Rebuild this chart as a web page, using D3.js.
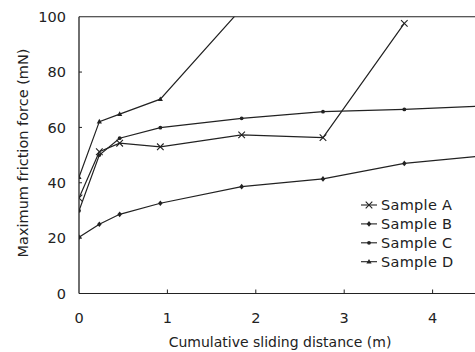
<!DOCTYPE html>
<html>
<head>
<meta charset="utf-8">
<script src="https://cdn.jsdelivr.net/npm/d3@7"></script>
<style>
  html, body { margin: 0; padding: 0; background: #fff; }
  svg { display: block; font-family: 'DejaVu Sans', sans-serif; }
</style>
</head>
<body>
<div id="chart"></div>
<script>
// distances (m)
const distances = [0, 0.23, 0.46, 0.92, 1.84, 2.76, 3.68, 4.6];
const sampleA = [34.5, 51.2, 54.3, 53.0, 57.3, 56.3, 97.6];
const sampleB = [20.3, 25.0, 28.6, 32.6, 38.6, 41.4, 47.0, 49.8];
const sampleC = [29.9, 50.0, 56.1, 59.9, 63.3, 65.7, 66.5, 67.8];
const sampleD = [42.0, 62.1, 64.8, 70.2, 103.0];
const seriesNames = ['Sample A', 'Sample B', 'Sample C', 'Sample D'];
const xTicks = [0, 1, 2, 3, 4];
const yTicks = [0, 20, 40, 60, 80, 100];

const W = 475, H = 352;
const M = { top: 16.7, left: 79, bottom: 293.5 };
const INK = '#222';

const x = d3.scaleLinear().domain([0, 5]).range([M.left, M.left + 5 * 88.4]);
const y = d3.scaleLinear().domain([0, 100]).range([M.bottom, M.top]);

const svg = d3.select('#chart').append('svg')
  .attr('width', W).attr('height', H)
  .attr('viewBox', `0 0 ${W} ${H}`);

svg.append('defs').append('clipPath').attr('id', 'plot')
  .append('rect')
  .attr('x', x(0)).attr('y', y(100))
  .attr('width', x(5) - x(0)).attr('height', y(0) - y(100));

// frame: top and left lines, bottom axis
svg.append('line')
  .attr('x1', x(0)).attr('x2', W + 10).attr('y1', y(100)).attr('y2', y(100))
  .attr('stroke', INK).attr('stroke-width', 1.1);
svg.append('line')
  .attr('x1', x(0)).attr('x2', x(0)).attr('y1', y(100)).attr('y2', y(0))
  .attr('stroke', INK).attr('stroke-width', 1.3);
svg.append('line')
  .attr('x1', x(0)).attr('x2', W + 10).attr('y1', y(0)).attr('y2', y(0))
  .attr('stroke', INK).attr('stroke-width', 1.1);

// ticks (inward)
svg.append('g').selectAll('line').data(xTicks.filter((d) => d > 0)).join('line')
  .attr('x1', (d) => x(d)).attr('x2', (d) => x(d))
  .attr('y1', y(0)).attr('y2', y(0) - 4)
  .attr('stroke', INK).attr('stroke-width', 1);
svg.append('g').selectAll('line').data(yTicks.filter((d) => d > 0 && d < 100)).join('line')
  .attr('x1', x(0)).attr('x2', x(0) + 3)
  .attr('y1', (d) => y(d)).attr('y2', (d) => y(d))
  .attr('stroke', INK).attr('stroke-width', 1);

// tick labels
svg.append('g').selectAll('text').data(yTicks).join('text')
  .attr('x', x(0) - 13).attr('y', (d) => y(d))
  .attr('dy', '0.36em')
  .attr('text-anchor', 'end')
  .attr('font-size', '14.5px')
  .attr('fill', INK)
  .text((d) => d);
svg.append('g').selectAll('text').data(xTicks).join('text')
  .attr('x', (d) => x(d)).attr('y', 318)
  .attr('dy', '0.36em')
  .attr('text-anchor', 'middle')
  .attr('font-size', '14.5px')
  .attr('fill', INK)
  .text((d) => d);

// axis titles
svg.append('text')
  .attr('x', 280).attr('y', 347)
  .attr('text-anchor', 'middle')
  .attr('font-size', '14px')
  .attr('fill', INK)
  .text('Cumulative sliding distance (m)');
svg.append('text')
  .attr('transform', `translate(28,153) rotate(-90)`)
  .attr('text-anchor', 'middle')
  .attr('font-size', '14.5px')
  .attr('fill', INK)
  .text('Maximum friction force (mN)');

// markers
function drawMarker(sel, kind) {
  if (kind === 0) {
    sel.append('path').attr('d', 'M-3.3,-3.3L3.3,3.3M-3.3,3.3L3.3,-3.3')
      .attr('stroke', INK).attr('stroke-width', 1.1).attr('fill', 'none');
  } else if (kind === 1) {
    sel.append('path').attr('d', 'M0,-2.8L2.3,0L0,2.8L-2.3,0Z').attr('fill', INK);
  } else if (kind === 2) {
    sel.append('circle').attr('r', 1.9).attr('fill', INK);
  } else {
    sel.append('path').attr('d', 'M0,-2.8L2.6,1.8L-2.6,1.8Z').attr('fill', INK);
  }
}

const allSeries = [sampleA, sampleB, sampleC, sampleD];
const plot = svg.append('g').attr('clip-path', 'url(#plot)');
const line = d3.line().x((d) => x(d[0])).y((d) => y(d[1]));

allSeries.forEach((vals, k) => {
  const pts = vals.map((v, i) => [distances[i], v]);
  plot.append('path')
    .datum(pts)
    .attr('fill', 'none')
    .attr('stroke', INK)
    .attr('stroke-width', 1.2)
    .attr('d', line);
  pts.forEach((p) => {
    const g = plot.append('g').attr('transform', `translate(${x(p[0])},${y(p[1])})`);
    drawMarker(g, k);
  });
});

// legend
const legend = svg.append('g').attr('transform', 'translate(361,205)');
seriesNames.forEach((name, k) => {
  const row = legend.append('g').attr('transform', `translate(0,${k * 18.9})`);
  row.append('line')
    .attr('x1', 0).attr('x2', 16).attr('y1', 0).attr('y2', 0)
    .attr('stroke', INK).attr('stroke-width', 1.1);
  drawMarker(row.append('g').attr('transform', 'translate(8,0)'), k);
  row.append('text')
    .attr('x', 20).attr('y', 0).attr('dy', '0.36em')
    .attr('font-size', '14.5px')
    .attr('letter-spacing', '0.3px')
    .attr('fill', INK)
    .text(name);
});
</script>
</body>
</html>
